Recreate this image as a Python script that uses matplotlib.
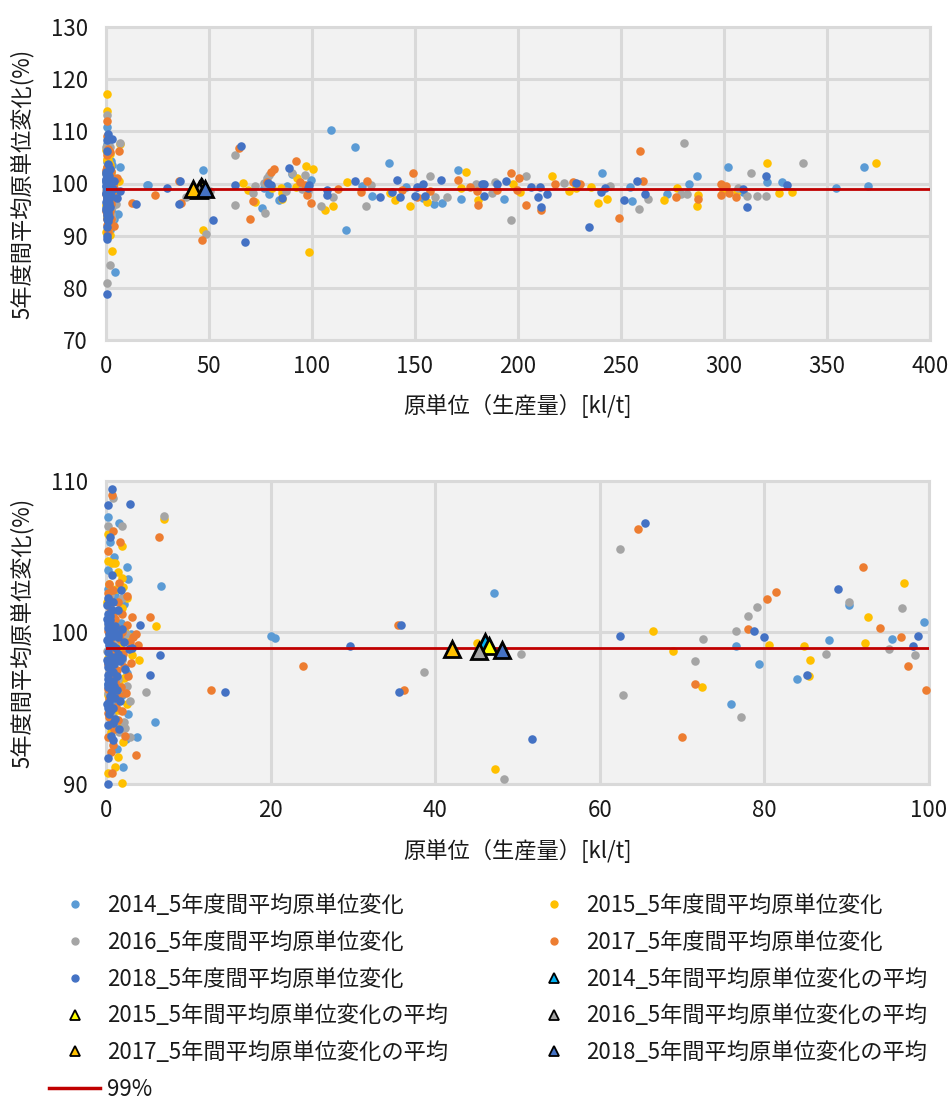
import numpy as np
import matplotlib
matplotlib.use('Agg')
import matplotlib.pyplot as plt
from matplotlib.lines import Line2D

plt.rcParams['font.family'] = ['Noto Sans CJK JP', 'DejaVu Sans']

# ---------------- data ----------------
years = ['2014', '2015', '2016', '2017', '2018']

x2014 = [0.25, 1.6, 0.5, 1.0, 2.5, 0.25, 2.7, 6.7, 3.8, 6.0, 2.1, 0.5, 4.4,
         0.3, 1.1, 2.2, 0.6, 1.8, 0.2, 3.0, 1.4, 0.8, 2.5, 0.3, 1.9, 1.0, 2.7, 0.5, 2.4, 1.3,
         0.7, 1.5, 0.4, 2.0, 1.2,
         20.0, 20.5, 47.2, 75.9, 76.5, 79.3, 84.0, 87.9, 90.3, 95.5, 99.4,
         109.2, 121.0, 116.4, 137.5, 124.1, 129.0, 145.8, 154.0, 159.2, 163.0, 170.7, 172.3, 193.2,
         240.8, 254.4, 255.2, 272.5, 283.2, 286.7, 301.8, 309.4, 321.0, 328.3, 354.5, 368.0, 370.0]
y2014 = [107.6, 107.2, 106.0, 105.0, 104.3, 104.1, 103.5, 103.1, 93.1, 94.1, 91.1, 110.9, 83.0,
         102.9, 102.4, 101.9, 101.0, 100.6, 99.6, 99.9, 98.9, 98.1, 97.3, 96.6, 95.9, 95.3, 94.6, 93.8, 93.0, 92.3,
         100.4, 99.3, 97.7, 98.5, 94.0,
         99.8, 99.66, 102.6, 95.3, 99.1, 97.9, 96.9, 99.5, 101.8, 99.6, 100.7,
         110.3, 107.0, 91.0, 104.0, 99.5, 97.6, 99.3, 97.2, 96.0, 96.2, 102.6, 97.0, 97.0,
         102.1, 99.4, 96.6, 97.9, 99.85, 101.5, 103.1, 98.4, 100.2, 100.2, 99.2, 103.1, 99.6]

x2015 = [0.3, 0.5, 7.0, 0.2, 2.0, 0.3, 0.7, 1.1, 1.4, 2.0, 2.1, 2.6, 6.1, 4.05, 2.1, 2.0, 0.2, 1.1, 1.5, 2.9,
         0.4, 1.2, 0.1, 1.9, 0.7, 2.3, 1.5, 3.1, 0.9, 2.2, 1.6, 0.2, 1.4, 2.0, 0.6, 2.7,
         0.5, 1.0, 1.8, 0.3, 1.3, 2.5, 0.8,
         45.1, 47.3, 66.5, 68.9, 72.4, 80.5, 84.8, 85.5, 85.4, 92.2, 92.6, 97.0, 98.4,
         100.5, 106.3, 110.0, 116.8, 137.9, 140.3, 147.6, 155.7, 172.2, 174.8, 180.5, 197.7, 201.0,
         216.5, 224.6, 228.0, 235.4, 238.7, 243.0, 271.0, 277.3, 287.5, 286.7, 299.4, 306.2, 321.0,
         326.5, 332.9, 373.9]
y2015 = [117.2, 113.9, 107.5, 106.5, 105.7, 104.7, 104.6, 104.6, 104.0, 103.6, 103.0, 102.3, 100.4, 98.2,
         92.8, 90.05, 90.7, 91.1, 91.8, 87.1,
         103.2, 102.9, 102.0, 101.6, 100.6, 100.0, 99.3, 98.5, 97.8, 97.0, 96.6, 95.9, 94.9, 93.9, 93.4, 99.8,
         101.3, 100.2, 98.9, 98.3, 96.1, 95.3, 94.5,
         99.3, 91.0, 100.1, 98.8, 96.4, 99.2, 99.1, 98.2, 97.1, 99.3, 101.0, 103.3, 86.8,
         102.8, 95.0, 95.6, 100.3, 98.2, 96.8, 95.7, 96.5, 99.2, 102.3, 96.8, 100.0, 98.4,
         101.4, 98.6, 99.2, 99.3, 96.3, 97.0, 96.8, 99.1, 97.8, 95.75, 98.7, 98.6, 104.0,
         98.2, 98.4, 104.0]

x2016 = [0.3, 7.0, 0.8, 0.2, 2.0, 4.8, 2.9, 2.9, 2.3, 1.9, 0.3,
         0.5, 1.3, 0.2, 2.4, 1.0, 1.9, 0.4, 2.6, 1.2, 0.7, 1.6, 0.1, 2.0, 1.5,
         0.9, 1.7, 0.3, 2.2,
         38.6, 48.4, 50.4, 62.5, 62.8, 71.6, 72.5, 76.6, 77.2, 78.0, 79.1, 87.5, 90.3, 95.1, 96.7, 98.3,
         104.2, 110.0, 126.2, 128.8, 157.3, 159.7, 165.4, 179.6, 187.2, 188.6, 196.6, 203.9, 222.5,
         244.8, 258.6, 263.0, 279.3, 280.7, 282.2, 306.7, 311.0, 312.9, 316.2, 320.5, 338.5]
y2016 = [113.1, 107.7, 108.9, 107.0, 107.0, 96.1, 95.5, 93.1, 93.7, 84.3, 80.9,
         102.5, 101.4, 100.5, 99.9, 99.4, 98.2, 97.4, 96.5, 95.7, 94.5, 93.4, 98.8, 102.3, 96.9,
         100.9, 99.6, 96.0, 94.1,
         97.4, 90.3, 98.6, 105.5, 95.9, 98.1, 99.6, 100.1, 94.4, 101.1, 101.7, 98.6, 102.0, 98.9, 101.6, 98.5,
         95.7, 97.4, 95.7, 99.7, 101.5, 97.4, 97.4, 100.0, 98.1, 100.3, 93.0, 101.4, 100.1,
         99.6, 95.2, 97.0, 97.9, 107.7, 97.9, 99.1, 97.6, 102.1, 97.6, 97.6, 103.9]

x2017 = [0.3, 0.7, 6.5, 0.9, 1.7, 0.3, 0.4, 3.15, 5.4, 3.9, 3.7, 0.3, 0.6, 0.75,
         0.2, 0.9, 1.4, 0.5, 2.0, 1.1, 2.6, 0.3, 1.7, 3.3, 2.9, 0.8, 2.1, 3.0, 1.3, 0.6, 1.8, 2.4,
         0.4, 1.2, 0.2, 2.0, 0.7, 1.0, 0.4, 1.6, 2.5, 3.6,
         0.3, 0.8, 1.3, 1.9, 0.5, 1.0, 1.5, 2.2, 0.2, 0.7, 1.1, 1.6, 2.7, 0.4, 1.4, 2.3, 0.9, 0.3,
         12.7, 23.9, 35.5, 36.2, 46.6, 64.7, 70.0, 71.6, 78.0, 80.3, 81.4, 92.0, 94.1, 96.6, 97.4, 99.6,
         112.8, 123.6, 126.5, 143.5, 148.9, 151.0, 157.3, 171.0, 176.7, 180.5, 180.0, 189.7, 196.8,
         199.3, 200.6, 204.0, 211.0, 217.8, 226.9, 230.0, 249.0, 259.2, 260.8, 276.8, 287.6, 298.4,
         300.8, 298.4, 302.6, 305.7]
y2017 = [112.0, 109.1, 106.3, 106.7, 106.0, 105.4, 103.2, 101.0, 101.0, 99.2, 91.9, 93.1, 92.1, 90.7,
         102.6, 102.8, 102.0, 101.6, 101.2, 100.9, 100.5, 100.1, 99.6, 99.7, 99.4, 99.1, 98.6, 98.0,
         97.5, 96.9, 96.4, 96.0, 95.6, 95.1, 94.7, 94.8, 94.2, 93.6, 102.2, 103.3, 102.4, 99.9,
         101.9, 101.3, 100.3, 100.0, 99.5, 98.8, 98.3, 97.7, 97.9, 97.2, 96.7, 95.8, 97.1, 94.4, 94.2, 93.2,
         92.6, 96.3,
         96.2, 97.8, 100.5, 96.2, 89.2, 106.8, 93.1, 96.6, 100.2, 102.2, 102.7, 104.3, 100.3, 99.7, 97.8, 96.2,
         98.9, 98.4, 100.5, 98.7, 102.0, 97.5, 98.5, 100.6, 99.4, 95.9, 98.6, 98.8, 102.1,
         98.7, 101.1, 95.8, 94.9, 100.0, 100.2, 99.9, 93.3, 106.3, 100.5, 97.4, 97.0, 100.0,
         99.5, 97.8, 98.2, 97.4]

x2018 = [0.73, 2.95, 0.3, 0.45, 0.75, 1.8, 0.2, 4.1, 6.6, 5.35, 0.3, 0.3, 0.9, 0.3, 0.3,
         0.1, 0.3, 0.5, 0.2, 0.6, 0.9, 0.1, 0.4, 1.2, 0.3, 0.7, 1.5, 0.2, 0.5, 1.0, 0.3, 0.8, 0.2, 1.3, 0.5,
         0.1, 0.9, 0.4, 1.1, 0.3, 1.6, 0.6, 2.2, 2.8, 1.9, 3.2, 1.4, 0.8, 2.3, 1.7, 0.15, 0.7, 1.1, 0.35, 0.25,
         0.2, 0.6, 1.0, 1.4, 0.4, 0.8, 1.2, 0.1, 0.5, 0.9, 1.3, 1.7, 0.3, 0.7, 1.1, 0.2, 0.6, 1.0, 0.4, 0.8,
         1.5, 0.3, 2.0, 0.5,
         14.5, 29.6, 35.9, 35.6, 51.8, 62.5, 65.5, 67.5, 78.7, 79.9, 85.2, 89.0, 98.0, 98.7,
         107.5, 107.4, 120.9, 133.0, 138.7, 141.1, 142.7, 150.0, 150.8, 153.7, 155.0, 162.6, 183.3,
         183.7, 182.5, 190.0, 194.0, 206.1, 210.7, 209.7, 211.0, 213.9, 228.2, 234.6, 240.3, 242.2,
         251.6, 257.6, 261.5, 309.1, 311.0, 320.4, 330.4]
y2018 = [109.5, 108.5, 108.4, 106.3, 103.8, 102.8, 102.3, 100.5, 98.5, 97.2, 90.0, 91.7, 92.9, 89.3, 78.9,
         101.8, 101.2, 100.8, 100.3, 100.0, 99.8, 99.5, 99.2, 99.0, 98.7, 98.4, 98.6, 98.0, 97.6, 97.9, 97.2,
         96.8, 96.4, 96.2, 95.8, 95.3, 95.0, 94.6, 94.3, 93.9, 93.6, 93.2, 99.4, 98.9, 100.2, 99.0, 101.5,
         102.0, 97.6, 95.5, 100.9, 101.5, 100.4, 99.9, 96.9,
         100.6, 100.4, 100.1, 99.7, 99.4, 99.1, 98.3, 98.2, 97.9, 97.4, 97.1, 98.1, 96.6, 96.1, 95.7, 95.0,
         94.9, 96.5, 95.4, 94.0, 99.9, 97.7, 98.3, 101.1,
         96.1, 99.1, 100.5, 96.1, 93.0, 99.8, 107.2, 88.7, 100.1, 99.7, 97.2, 102.9, 99.1, 99.8,
         98.8, 97.8, 100.5, 97.5, 98.4, 100.7, 97.5, 97.6, 99.3, 100.0, 97.6, 100.6, 100.0,
         97.6, 100.0, 100.0, 100.5, 99.4, 99.4, 97.5, 95.4, 98.0, 100.1, 91.7, 98.4, 99.1,
         96.8, 100.5, 98.0, 98.9, 95.4, 101.5, 99.65]

# averages (triangles)
avg_x = [46.1, 46.5, 45.3, 42.1, 48.1]
avg_y = [99.4, 99.1, 98.8, 98.9, 98.85]

target_value = 99
target_label = '99%'

dot_labels = [f'{y}_5年度間平均原単位変化' for y in years]
avg_labels = [f'{y}_5年間平均原単位変化の平均' for y in years]
xlabel = '原単位（生産量）[kl/t]'
ylabel = '5年度間平均原単位変化(%)'

# ---------------- style ----------------
dot_colors = ['#5B9BD5', '#FFC000', '#A5A5A5', '#ED7D31', '#4472C4']
tri_colors = ['#00B0F0', '#FFFF00', '#A5A5A5', '#FFC000', '#4472C4']
red = '#C00000'
grid_c = '#D9D9D9'
bg_c = '#F2F2F2'
txt_c = '#1a1a1a'

xs = [x2014, x2015, x2016, x2017, x2018]
ys = [y2014, y2015, y2016, y2017, y2018]

W, H = 950, 1102
fig = plt.figure(figsize=(W / 100, H / 100), dpi=100)


def fx(px):
    return px / W


def fy(py):
    return 1 - py / H


ax1 = fig.add_axes([fx(106), fy(340), (930 - 106) / W, (340 - 27) / H])
ax2 = fig.add_axes([fx(106), fy(784), (929 - 106) / W, (784 - 481) / H])

panels = [
    (ax1, (0, 400), (70, 130), np.arange(0, 401, 50), np.arange(70, 131, 10)),
    (ax2, (0, 100), (90, 110), np.arange(0, 101, 20), np.arange(90, 111, 10)),
]

for ax, xl, yl, xt, yt in panels:
    ax.set_facecolor(bg_c)
    ax.set_xlim(*xl)
    ax.set_ylim(*yl)
    ax.set_xticks(xt)
    ax.set_yticks(yt)
    ax.set_axisbelow(True)
    ax.grid(True, color=grid_c, lw=2.2)
    for sp in ax.spines.values():
        sp.set_color(grid_c)
        sp.set_linewidth(2.2)
    ax.tick_params(length=0, labelsize=16, colors=txt_c)
    ax.tick_params(axis='x', pad=11)
    ax.tick_params(axis='y', pad=13)

    for x, y, c in zip(xs, ys, dot_colors):
        x = np.asarray(x)
        y = np.asarray(y)
        m = (x >= xl[0]) & (x <= xl[1]) & (y >= yl[0]) & (y <= yl[1])
        ax.scatter(x[m], y[m], s=38, color=c, linewidths=0, zorder=3, clip_on=False)

    ax.axhline(target_value, color=red, lw=2.0, zorder=4)

    for x, y, c in zip(avg_x, avg_y, tri_colors):
        ax.plot([x], [y], marker='^', ms=12, mfc=c, mec='black', mew=2.0,
                ls='none', zorder=5)

# axis labels
fig.text(fx(518), fy(406), xlabel, ha='center', va='center', fontsize=16, color=txt_c)
fig.text(fx(518), fy(851), xlabel, ha='center', va='center', fontsize=16, color=txt_c)
fig.text(fx(22), fy(183.5), ylabel, ha='center', va='center', rotation=90, fontsize=16, color=txt_c)
fig.text(fx(22), fy(632.5), ylabel, ha='center', va='center', rotation=90, fontsize=16, color=txt_c)

# legend handles
dot_h = [Line2D([], [], marker='o', ls='none', ms=5, mfc=c, mec=c, label=l)
         for c, l in zip(dot_colors, dot_labels)]
tri_h = [Line2D([], [], marker='^', ls='none', ms=7, mfc=c, mec='black', mew=1.3, label=l)
         for c, l in zip(tri_colors, avg_labels)]
line_h = Line2D([], [], color=red, lw=2.5, label=target_label)

col1 = [dot_h[0], dot_h[2], dot_h[4], tri_h[1], tri_h[3], line_h]
col2 = [dot_h[1], dot_h[3], tri_h[0], tri_h[2], tri_h[4]]

common = dict(loc='upper left', frameon=False, fontsize=16, borderpad=0, borderaxespad=0,
              handlelength=2.3, handletextpad=0.3, labelspacing=0.62, labelcolor=txt_c)
leg1 = fig.legend(handles=col1, bbox_to_anchor=(fx(49), fy(894)), **common)
leg2 = fig.legend(handles=col2, bbox_to_anchor=(fx(528), fy(894)), **common)

fig.savefig('out.png', dpi=100)
